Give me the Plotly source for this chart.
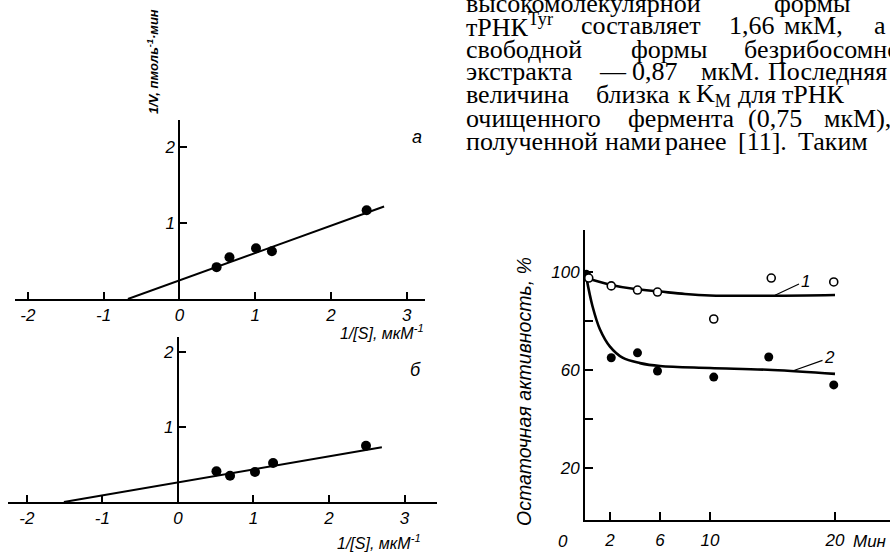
import plotly.graph_objects as go

W, H = 890, 553

# ---------- data ----------
# panel a (Lineweaver-Burk)
a_x = [0.49, 0.66, 1.01, 1.22, 2.47]
a_y = [0.42, 0.55, 0.67, 0.63, 1.17]
a_fit_x = [-0.68, 2.7]
a_fit_y = [0.0, 1.22]
# panel b
b_x = [0.51, 0.69, 1.02, 1.26, 2.49]
b_y = [0.41, 0.35, 0.40, 0.52, 0.75]
b_fit_x = [-1.51, 2.7]
b_fit_y = [0.0, 0.73]
lb_xticks = [-2, -1, 0, 1, 2, 3]
lb_xticktext = ["-2", "-1", "0", "1", "2", "3"]
lb_yticks = [1, 2]
lb_yticktext = ["1", "2"]

# residual activity panel
t1 = [0.3, 2.1, 4.2, 5.8, 10.3, 14.9, 19.9]
act1 = [97.5, 94.3, 92.6, 91.8, 80.8, 97.5, 95.9]
t2 = [0.1, 2.1, 4.2, 5.8, 10.3, 14.7, 19.9]
act2 = [99.0, 65.0, 67.0, 59.6, 57.1, 65.3, 53.9]
curve1_t = [0.1, 2, 4, 6, 8, 10, 15, 20]
curve1_y = [97.5, 94.8, 93.0, 92.0, 91.0, 90.4, 90.3, 90.6]
curve2_t = [0.1, 0.6, 1.2, 2, 3, 4.4, 6, 10, 15, 20]
curve2_y = [98.0, 86.0, 76.5, 69.5, 65.0, 62.8, 61.6, 60.8, 60.0, 58.4]
ra_xticks = [2, 6, 10, 20]
ra_xticktext = ["2", "6", "10", "20"]
ra_yticks = [20, 40, 60, 80, 100]
ra_yticktext = ["20", " ", "60", " ", "100"]

# text block (one list per line: (word, left px))
text_lines = [
    [("высокомолекулярной", 465), ("формы", 773)],
    [("тРНК<sup>Tyr</sup>", 465), ("составляет", 580), ("1,66", 728), ("мкМ,", 783), ("а", 873)],
    [("свободной", 465), ("формы", 630), ("безрибосомного", 743)],
    [("экстракта", 465), ("—", 598), ("0,87", 631), ("мкМ.", 700), ("Последняя", 767)],
    [("величина", 465), ("близка", 595), ("к", 677), ("K<sub>M</sub>", 695), ("для", 737), ("тРНК", 781)],
    [("очищенного", 465), ("фермента", 627), ("(0,75", 747), ("мкМ),", 823)],
    [("полученной", 465), ("нами", 604), ("ранее", 664), ("[11].", 737), ("Таким", 797)],
]
text_baselines = [11, 34, 57, 80, 103, 126, 149]

# ---------- helpers ----------
def px(x):
    return x / W

def py(y):
    return 1 - y / H

def it(labels):
    return ["<i>%s</i>" % s for s in labels]

SANS = "Liberation Sans, Arial"
SERIF = "Liberation Serif, Times New Roman, serif"
tickf = dict(family=SANS, size=17, color="black", style="italic")

fig = go.Figure()

# panel a
fig.add_trace(go.Scatter(x=a_fit_x, y=a_fit_y, mode="lines", line=dict(color="black", width=2),
                         xaxis="x", yaxis="y", showlegend=False, hoverinfo="skip"))
fig.add_trace(go.Scatter(x=a_x, y=a_y, mode="markers", marker=dict(color="black", size=10),
                         xaxis="x", yaxis="y", showlegend=False))
# panel b
fig.add_trace(go.Scatter(x=b_fit_x, y=b_fit_y, mode="lines", line=dict(color="black", width=2),
                         xaxis="x2", yaxis="y2", showlegend=False, hoverinfo="skip"))
fig.add_trace(go.Scatter(x=b_x, y=b_y, mode="markers", marker=dict(color="black", size=10),
                         xaxis="x2", yaxis="y2", showlegend=False))
# residual activity
fig.add_trace(go.Scatter(x=curve1_t, y=curve1_y, mode="lines", line=dict(color="black", width=2.6, shape="spline"),
                         xaxis="x3", yaxis="y3", showlegend=False, hoverinfo="skip"))
fig.add_trace(go.Scatter(x=curve2_t, y=curve2_y, mode="lines", line=dict(color="black", width=2.6, shape="spline"),
                         xaxis="x3", yaxis="y3", showlegend=False, hoverinfo="skip"))
fig.add_trace(go.Scatter(x=t2, y=act2, mode="markers", marker=dict(color="black", size=9),
                         xaxis="x3", yaxis="y3", showlegend=False))
fig.add_trace(go.Scatter(x=t1, y=act1, mode="markers",
                         marker=dict(color="white", size=8, line=dict(color="black", width=1.6)),
                         xaxis="x3", yaxis="y3", showlegend=False))

common = dict(showline=True, linecolor="black", linewidth=2, ticks="inside", ticklen=7, tickwidth=1.5,
              tickcolor="black", showgrid=False, zeroline=False, tickfont=tickf, fixedrange=True)

a_xr = [-2.17, 3.24]
b_xr = [-2.25, 3.43]
a_dom = [px(15), px(425)]
b_dom = [px(8), px(437)]

def axis_pos(dom, xr):
    return dom[0] + (0 - xr[0]) / (xr[1] - xr[0]) * (dom[1] - dom[0])

fig.update_layout(
    width=W, height=H, margin=dict(l=0, r=0, t=0, b=0),
    paper_bgcolor="white", plot_bgcolor="rgba(0,0,0,0)",
    xaxis=dict(common, domain=a_dom, range=a_xr, anchor="y",
               tickvals=lb_xticks, ticktext=it(lb_xticktext)),
    yaxis=dict(common, domain=[py(299), py(120)], range=[0, 2.36], anchor="free",
               position=axis_pos(a_dom, a_xr), tickvals=lb_yticks, ticktext=it(lb_yticktext)),
    xaxis2=dict(common, domain=b_dom, range=b_xr, anchor="y2",
                tickvals=lb_xticks, ticktext=it(lb_xticktext)),
    yaxis2=dict(common, domain=[py(502), py(337)], range=[0, 2.2], anchor="free",
                position=axis_pos(b_dom, b_xr), tickvals=lb_yticks, ticktext=it(lb_yticktext)),
    xaxis3=dict(common, domain=[px(585), 1], range=[0, 24.4], anchor="y3",
                tickvals=ra_xticks, ticktext=it(ra_xticktext), ticklen=8, ticklabelstandoff=4),
    yaxis3=dict(common, domain=[py(520), py(230)], range=[-1.2, 117.1], anchor="x3",
                tickvals=ra_yticks, ticktext=it(ra_yticktext), ticklen=8),
)

ann = []

def label(text, x, y, size=17, angle=0, xanchor="center", bold=False):
    f = dict(family=SANS, size=size, color="black", style="italic")
    if bold:
        f["weight"] = "bold"
    ann.append(dict(text=text, x=px(x), y=py(y), xref="paper", yref="paper", textangle=angle,
                    xanchor=xanchor, yanchor="middle", showarrow=False, borderpad=0, font=f))

# axis titles
label("1/V, пмоль<sup>-1</sup>·мин", 153, 62, size=13, angle=-90, bold=True)
label("1/[S], мкМ<sup>-1</sup>", 425, 332, size=16, xanchor="right")
label("1/[S], мкМ<sup>-1</sup>", 422, 542, size=16, xanchor="right")
label("а", 417, 137, size=18)
label("б", 415, 370, size=18)
label("Остаточная активность, %", 524, 392, size=19.5, angle=-90)
label("0", 563, 541)
label("Мин", 852, 541, xanchor="left")
# curve labels with leader lines
ann.append(dict(text="<i>1</i>", x=15.2, y=90.5, xref="x3", yref="y3", ax=30, ay=-14, showarrow=True,
                arrowhead=0, arrowwidth=1.2, arrowcolor="black", font=tickf))
ann.append(dict(text="<i>2</i>", x=16.6, y=59.6, xref="x3", yref="y3", ax=37, ay=-13, showarrow=True,
                arrowhead=0, arrowwidth=1.2, arrowcolor="black", font=tickf))
# text block
for words, base in zip(text_lines, text_baselines):
    for w, x0 in words:
        ann.append(dict(text=w, x=px(x0), y=py(base - 8), xref="paper", yref="paper", xanchor="left",
                        yanchor="middle", showarrow=False, borderpad=0,
                        font=dict(family=SERIF, size=26, color="black")))
fig.update_layout(annotations=ann)

fig.write_html("out.html")
